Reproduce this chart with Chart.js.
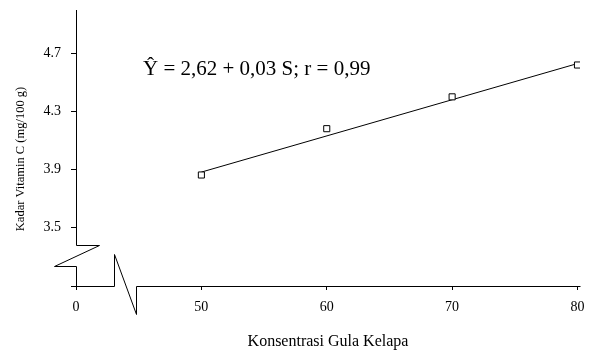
<!DOCTYPE html>
<html>
<head>
<meta charset="utf-8">
<script src="https://cdn.jsdelivr.net/npm/chart.js@4.4.1/dist/chart.umd.min.js"></script>
<style>
  html, body { margin: 0; padding: 0; background: #fff; }
  #wrap { width: 589px; height: 358px; }
</style>
</head>
<body>
<div id="wrap"><canvas id="c" width="589" height="358"></canvas></div>
<script>
// Vitamin C content against coconut sugar concentration
const concentrations = [50, 60, 70, 80];
const vitaminC = [3.86, 4.18, 4.40, 4.62];

// fitted regression line (end points)
const fitX = [50, 80];
const fitY = [3.88, 4.63];

// axis ticks; the x axis is broken, so its first tick stands for 0
const xTickValues = [40, 50, 60, 70, 80];
const xTickLabels = ['0', '50', '60', '70', '80'];
const yTickValues = [3.5, 3.9, 4.3, 4.7];

const X_MIN = 40, X_MAX = 80.2;
const Y_MIN = 3.093, Y_MAX = 5.0;
const Y_BREAK = 3.376;   // where the upper y-axis segment stops
const X_BREAK_A = 43.03; // start of the x-axis break
const X_BREAK_B = 44.78; // end of the x-axis break

const SERIF = '"Liberation Serif", "Times New Roman", serif';

// axis lines with the zig-zag break marks, y title and equation
const axisBreaks = {
  id: 'axisBreaks',
  afterDraw(chart) {
    const ctx = chart.ctx;
    const xs = chart.scales.x, ys = chart.scales.y;
    const x0 = Math.round(xs.getPixelForValue(X_MIN)) + 0.5;
    const xEnd = Math.round(xs.getPixelForValue(X_MAX)) + 0.5;
    const yBottom = Math.round(ys.getPixelForValue(Y_MIN)) + 0.5;
    const yTop = Math.round(ys.getPixelForValue(Y_MAX));
    const yb = Math.round(ys.getPixelForValue(Y_BREAK)) + 0.5;
    const xa = Math.round(xs.getPixelForValue(X_BREAK_A)) + 0.5;
    const xb = Math.round(xs.getPixelForValue(X_BREAK_B)) + 0.5;

    ctx.save();
    ctx.strokeStyle = '#000';
    ctx.lineWidth = 1;
    ctx.lineJoin = 'miter';

    // y axis with its break
    ctx.beginPath();
    ctx.moveTo(x0, yTop);
    ctx.lineTo(x0, yb);
    ctx.lineTo(x0 + 23, yb);
    ctx.lineTo(x0 - 22, yb + 21);
    ctx.lineTo(x0, yb + 21);
    ctx.lineTo(x0, yBottom);
    ctx.stroke();

    // x axis with its break
    ctx.beginPath();
    ctx.moveTo(x0, yBottom);
    ctx.lineTo(xa, yBottom);
    ctx.lineTo(xa, yBottom - 32);
    ctx.lineTo(xb, yBottom + 28);
    ctx.lineTo(xb, yBottom);
    ctx.lineTo(xEnd, yBottom);
    ctx.stroke();

    // y axis title
    ctx.fillStyle = '#000';
    ctx.font = '12.5px ' + SERIF;
    ctx.textAlign = 'center';
    ctx.textBaseline = 'middle';
    ctx.translate(21, 159);
    ctx.rotate(-Math.PI / 2);
    ctx.fillText('Kadar Vitamin C (mg/100 g)', 0, 0);
    ctx.restore();

    // regression equation
    ctx.save();
    ctx.fillStyle = '#000';
    ctx.font = '21px ' + SERIF;
    ctx.textAlign = 'left';
    ctx.textBaseline = 'alphabetic';
    ctx.fillText('\u0176 = 2,62 + 0,03 S; r = 0,99', 143, 75);
    ctx.restore();
  }
};

new Chart(document.getElementById('c'), {
  type: 'scatter',
  data: {
    datasets: [
      {
        label: 'Regresi',
        type: 'line',
        data: fitX.map((x, i) => ({ x, y: fitY[i] })),
        borderColor: '#000',
        borderWidth: 1,
        pointRadius: 0,
        fill: false,
        order: 2
      },
      {
        label: 'Vitamin C',
        data: concentrations.map((x, i) => ({ x, y: vitaminC[i] })),
        pointStyle: 'rect',
        pointRadius: 4.3,
        pointBorderColor: '#000',
        pointBackgroundColor: '#fff',
        pointBorderWidth: 1,
        order: 1
      }
    ]
  },
  options: {
    responsive: false,
    animation: false,
    events: [],
    layout: { padding: { top: 10, right: 9, left: 0, bottom: 0 } },
    plugins: {
      legend: { display: false },
      tooltip: { enabled: false },
      title: { display: false }
    },
    scales: {
      x: {
        type: 'linear',
        min: X_MIN,
        max: X_MAX,
        afterBuildTicks(scale) {
          scale.ticks = xTickValues.map(v => ({ value: v }));
        },
        afterFit(scale) {
          scale.height = 72;
          scale.paddingLeft = 0;
          scale.paddingRight = 0;
        },
        ticks: {
          autoSkip: false,
          maxRotation: 0,
          padding: 9,
          color: '#000',
          font: { family: SERIF, size: 14 },
          callback(value) {
            const i = xTickValues.indexOf(value);
            return i >= 0 ? xTickLabels[i] : '';
          }
        },
        grid: { drawOnChartArea: false, drawTicks: true, tickLength: 4, color: '#000', lineWidth: 1 },
        border: { display: false },
        title: {
          display: true,
          text: 'Konsentrasi Gula Kelapa',
          color: '#000',
          font: { family: SERIF, size: 16, lineHeight: 1.2 },
          padding: { top: 0, bottom: 7 }
        }
      },
      y: {
        type: 'linear',
        min: Y_MIN,
        max: Y_MAX,
        afterBuildTicks(scale) {
          scale.ticks = [Y_MIN].concat(yTickValues).map(v => ({ value: v }));
        },
        afterFit(scale) {
          scale.width = 76;
          scale.paddingTop = 0;
          scale.paddingBottom = 0;
        },
        ticks: {
          autoSkip: false,
          padding: 10,
          color: '#000',
          font: { family: SERIF, size: 14 },
          callback(value) {
            return yTickValues.includes(value) ? value.toFixed(1) : '';
          }
        },
        grid: { drawOnChartArea: false, drawTicks: true, tickLength: 5, color: '#000', lineWidth: 1 },
        border: { display: false }
      }
    }
  },
  plugins: [axisBreaks]
});
</script>
</body>
</html>
